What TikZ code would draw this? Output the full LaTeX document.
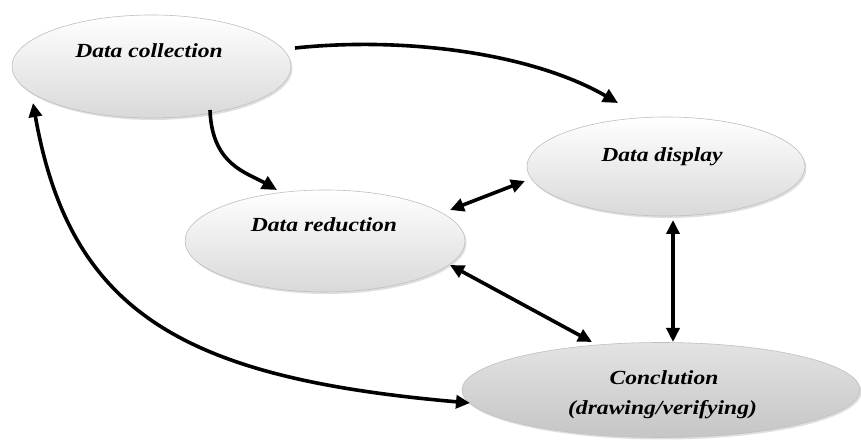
\documentclass[tikz,border=0pt]{standalone}
\usepackage{fontspec}
\setmainfont{Liberation Serif}[FakeStretch=1.18]
\usetikzlibrary{arrows.meta,shapes.geometric,shadows}
\begin{document}
\begin{tikzpicture}[x=1pt,y=1pt,
  bubble/.style={ellipse, draw=gray!50, line width=0.6pt, inner sep=0pt, outer sep=0pt,
    top color=white, bottom color=gray!30,
    drop shadow={shadow xshift=1.5pt, shadow yshift=-2pt, opacity=0.25}},
  darkbubble/.style={bubble, top color=gray!22, bottom color=gray!45},
  lbl/.style={font=\fontsize{20}{30}\selectfont\bfseries\itshape, anchor=base, inner sep=0pt},
  conn/.style={line width=3.6pt, -{Triangle[length=15pt,width=14pt]}},
  both/.style={line width=3.6pt, {Triangle[length=14pt,width=13pt]}-{Triangle[length=14pt,width=13pt]}}
]
\useasboundingbox (0,0) rectangle (861,441);
\fill[white] (0,0) rectangle (861,441);

\node[bubble, minimum width=279pt, minimum height=103pt] (coll) at (151.5,374.5) {};
\node[bubble, minimum width=278pt, minimum height=99pt] (disp) at (666,274.5) {};
\node[bubble, minimum width=280pt, minimum height=102pt] (red) at (325,200) {};
\node[darkbubble, minimum width=398pt, minimum height=95pt] (conc) at (661,51) {};

\draw[conn] ([shift={(143.5,18.5)}]coll.center) to[out=6,in=150,out distance=110pt,in distance=100pt] ([shift={(-48,63.5)}]disp.center);
\draw[conn] ([shift={(58.5,-43.5)}]coll.center) to[out=-88,in=150,out distance=55pt,in distance=35pt] ([shift={(-48,51)}]red.center);
\draw[both] ([shift={(125,31)}]red.center) -- ([shift={(-141,-14.5)}]disp.center);
\draw[both] ([shift={(125,-24)}]red.center) -- ([shift={(-69,48)}]conc.center);
\draw[both] ([shift={(7,-53.5)}]disp.center) -- ([shift={(12,48)}]conc.center);
\draw[both] ([shift={(-118.5,-36.5)}]coll.center) to[out=-80,in=175,out distance=215pt,in distance=285pt] ([shift={(-191,-13)}]conc.center);

\node[lbl] (collt) at (149,383.7) {Data collection};
\node[lbl] (dispt) at (662,279.3) {Data display};
\node[lbl] (redt) at (324,209.3) {Data reduction};
\node[lbl] (conct) at (664,56) {Conclution};
\node[lbl] (concv) at (662.5,26) {(drawing/verifying)};
\end{tikzpicture}
\end{document}
